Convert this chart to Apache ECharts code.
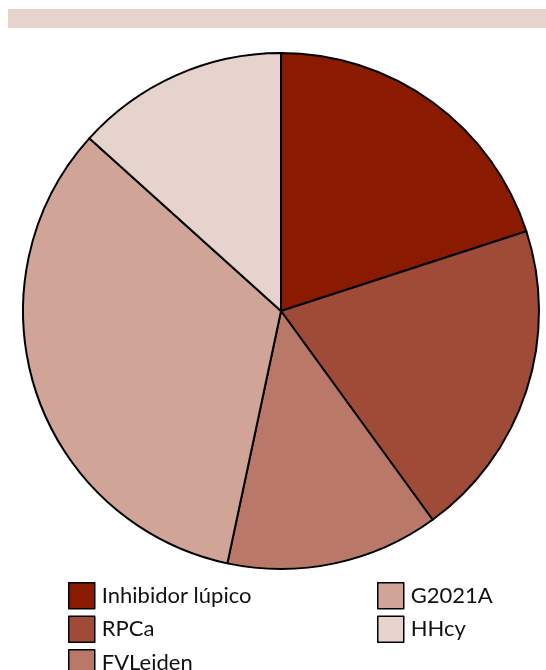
<!DOCTYPE html>
<html>
<head>
<meta charset="utf-8">
<script src="https://cdn.jsdelivr.net/npm/echarts@6/dist/echarts.min.js"></script>
<style>html,body{margin:0;padding:0;background:#fff}#c{width:546px;height:670px}</style>
</head>
<body>
<div id="c"></div>
<script>
var categories = ['Inhibidor lúpico', 'RPCa', 'FVLeiden', 'G2021A', 'HHcy'];
var values = [3, 3, 2, 5, 2];
var colors = ['#8B1B00', '#A04B38', '#B97868', '#D0A598', '#E7D3CE'];

var chart = echarts.init(document.getElementById('c'), null, {renderer: 'canvas'});
var legendCommon = {
  orient: 'vertical',
  itemWidth: 26,
  itemHeight: 26,
  itemGap: 6,
  icon: 'rect',
  height: 120,
  itemStyle: {borderColor: '#000', borderWidth: 1.5},
  textStyle: {fontFamily: 'Lato', fontSize: 22, color: '#111', padding: [0, 0, 4, 2]},
  padding: 0,
  selectedMode: false
};
chart.setOption({
  animation: false,
  color: colors,
  graphic: [{
    type: 'rect',
    shape: {x: 8, y: 9, width: 538, height: 19},
    style: {fill: '#E7D3CE'}
  }],
  legend: [
    Object.assign({}, legendCommon, {left: 68, top: 582, data: categories.slice(0, 3)}),
    Object.assign({}, legendCommon, {left: 377, top: 582, data: categories.slice(3)})
  ],
  series: [{
    type: 'pie',
    center: [281, 311],
    radius: [0, 258],
    startAngle: 90,
    clockwise: true,
    label: {show: false},
    labelLine: {show: false},
    itemStyle: {borderColor: '#000', borderWidth: 2},
    emphasis: {disabled: true},
    data: categories.map(function (n, i) { return {name: n, value: values[i]}; })
  }]
});
</script>
</body>
</html>
